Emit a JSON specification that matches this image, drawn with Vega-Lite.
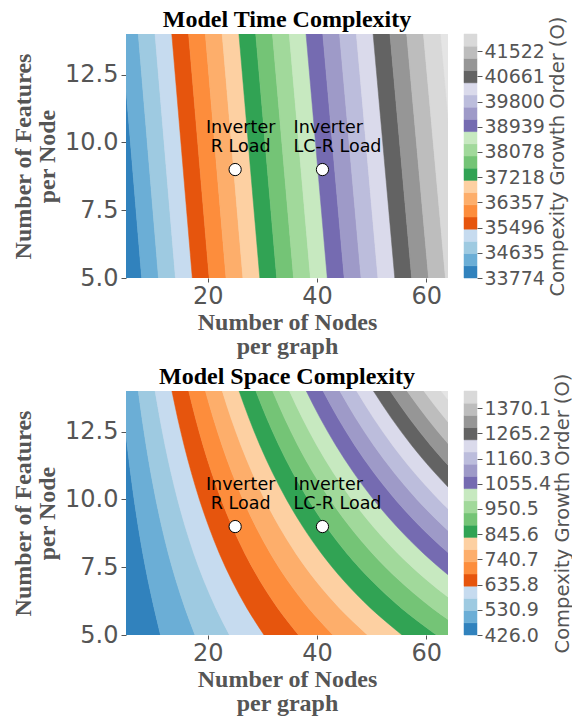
{
"$schema":"https://vega.github.io/schema/vega-lite/v6.json",
"padding":{"left":11,"top":8,"right":0,"bottom":0},
"background":"white",
"config":{
"view":{"stroke":null},
"font":"DejaVu Sans",
"axis":{"domain":false,"grid":false,"labelColor":"#555555","tickColor":"#555555","titleColor":"#555555","labelFont":"DejaVu Sans","labelFlush":false,"labelOverlap":false},
"title":{"font":"Liberation Serif","fontSize":24,"fontWeight":"bold","color":"#000000","anchor":"middle","offset":2}
},
"datasets":{
"markers":[{"x":25,"y":9,"k":"R","label":"Inverter\nR Load"},{"x":41,"y":9,"k":"LCR","label":"Inverter\nLC-R Load"}],
"timeBands":[
{"b":0,"y":5,"x0":4.78,"x1":7.87},{"b":0,"y":14,"x0":1.10,"x1":4.17},
{"b":1,"y":5,"x0":7.87,"x1":10.96},{"b":1,"y":14,"x0":4.17,"x1":7.25},
{"b":2,"y":5,"x0":10.96,"x1":14.06},{"b":2,"y":14,"x0":7.25,"x1":10.32},
{"b":3,"y":5,"x0":14.06,"x1":17.15},{"b":3,"y":14,"x0":10.32,"x1":13.39},
{"b":4,"y":5,"x0":17.15,"x1":20.24},{"b":4,"y":14,"x0":13.39,"x1":16.47},
{"b":5,"y":5,"x0":20.24,"x1":23.33},{"b":5,"y":14,"x0":16.47,"x1":19.54},
{"b":6,"y":5,"x0":23.33,"x1":26.42},{"b":6,"y":14,"x0":19.54,"x1":22.62},
{"b":7,"y":5,"x0":26.42,"x1":29.52},{"b":7,"y":14,"x0":22.62,"x1":25.69},
{"b":8,"y":5,"x0":29.52,"x1":32.61},{"b":8,"y":14,"x0":25.69,"x1":28.77},
{"b":9,"y":5,"x0":32.61,"x1":35.70},{"b":9,"y":14,"x0":28.77,"x1":31.84},
{"b":10,"y":5,"x0":35.70,"x1":38.79},{"b":10,"y":14,"x0":31.84,"x1":34.91},
{"b":11,"y":5,"x0":38.79,"x1":41.88},{"b":11,"y":14,"x0":34.91,"x1":37.99},
{"b":12,"y":5,"x0":41.88,"x1":44.98},{"b":12,"y":14,"x0":37.99,"x1":41.06},
{"b":13,"y":5,"x0":44.98,"x1":48.07},{"b":13,"y":14,"x0":41.06,"x1":44.13},
{"b":14,"y":5,"x0":48.07,"x1":51.16},{"b":14,"y":14,"x0":44.13,"x1":47.21},
{"b":15,"y":5,"x0":51.16,"x1":54.25},{"b":15,"y":14,"x0":47.21,"x1":50.28},
{"b":16,"y":5,"x0":54.25,"x1":57.34},{"b":16,"y":14,"x0":50.28,"x1":53.36},
{"b":17,"y":5,"x0":57.34,"x1":60.44},{"b":17,"y":14,"x0":53.36,"x1":56.43},
{"b":18,"y":5,"x0":60.44,"x1":63.53},{"b":18,"y":14,"x0":56.43,"x1":59.50},
{"b":19,"y":5,"x0":63.53,"x1":66.62},{"b":19,"y":14,"x0":59.50,"x1":62.58}
],
"spaceBands":[
{"b":0,"y":5,"x0":5,"x1":11.32},{"b":0,"y":6,"x0":4.49,"x1":10.14},{"b":0,"y":7,"x0":3.93,"x1":9.05},{"b":0,"y":8,"x0":3.41,"x1":8.09},{"b":0,"y":9,"x0":2.94,"x1":7.24},{"b":0,"y":10,"x0":2.50,"x1":6.49},{"b":0,"y":11,"x0":2.11,"x1":5.82},{"b":0,"y":12,"x0":1.74,"x1":5.22},{"b":0,"y":13,"x0":1.41,"x1":4.67},{"b":0,"y":14,"x0":1.10,"x1":4.18},
{"b":1,"y":5,"x0":11.32,"x1":17.64},{"b":1,"y":6,"x0":10.14,"x1":15.80},{"b":1,"y":7,"x0":9.05,"x1":14.18},{"b":1,"y":8,"x0":8.09,"x1":12.77},{"b":1,"y":9,"x0":7.24,"x1":11.55},{"b":1,"y":10,"x0":6.49,"x1":10.48},{"b":1,"y":11,"x0":5.82,"x1":9.53},{"b":1,"y":12,"x0":5.22,"x1":8.69},{"b":1,"y":13,"x0":4.67,"x1":7.93},{"b":1,"y":14,"x0":4.18,"x1":7.25},
{"b":2,"y":5,"x0":17.64,"x1":23.96},{"b":2,"y":6,"x0":15.80,"x1":21.46},{"b":2,"y":7,"x0":14.18,"x1":19.30},{"b":2,"y":8,"x0":12.77,"x1":17.45},{"b":2,"y":9,"x0":11.55,"x1":15.85},{"b":2,"y":10,"x0":10.48,"x1":14.46},{"b":2,"y":11,"x0":9.53,"x1":13.24},{"b":2,"y":12,"x0":8.69,"x1":12.16},{"b":2,"y":13,"x0":7.93,"x1":11.20},{"b":2,"y":14,"x0":7.25,"x1":10.33},
{"b":3,"y":5,"x0":23.96,"x1":30.28},{"b":3,"y":6,"x0":21.46,"x1":27.12},{"b":3,"y":7,"x0":19.30,"x1":24.42},{"b":3,"y":8,"x0":17.45,"x1":22.12},{"b":3,"y":9,"x0":15.85,"x1":20.16},{"b":3,"y":10,"x0":14.46,"x1":18.45},{"b":3,"y":11,"x0":13.24,"x1":16.96},{"b":3,"y":12,"x0":12.16,"x1":15.64},{"b":3,"y":13,"x0":11.20,"x1":14.46},{"b":3,"y":14,"x0":10.33,"x1":13.41},
{"b":4,"y":5,"x0":30.28,"x1":36.61},{"b":4,"y":6,"x0":27.12,"x1":32.78},{"b":4,"y":7,"x0":24.42,"x1":29.54},{"b":4,"y":8,"x0":22.12,"x1":26.80},{"b":4,"y":9,"x0":20.16,"x1":24.46},{"b":4,"y":10,"x0":18.45,"x1":22.44},{"b":4,"y":11,"x0":16.96,"x1":20.67},{"b":4,"y":12,"x0":15.64,"x1":19.11},{"b":4,"y":13,"x0":14.46,"x1":17.73},{"b":4,"y":14,"x0":13.41,"x1":16.49},
{"b":5,"y":5,"x0":36.61,"x1":42.93},{"b":5,"y":6,"x0":32.78,"x1":38.44},{"b":5,"y":7,"x0":29.54,"x1":34.66},{"b":5,"y":8,"x0":26.80,"x1":31.48},{"b":5,"y":9,"x0":24.46,"x1":28.77},{"b":5,"y":10,"x0":22.44,"x1":26.43},{"b":5,"y":11,"x0":20.67,"x1":24.38},{"b":5,"y":12,"x0":19.11,"x1":22.59},{"b":5,"y":13,"x0":17.73,"x1":20.99},{"b":5,"y":14,"x0":16.49,"x1":19.56},
{"b":6,"y":5,"x0":42.93,"x1":49.25},{"b":6,"y":6,"x0":38.44,"x1":44.10},{"b":6,"y":7,"x0":34.66,"x1":39.78},{"b":6,"y":8,"x0":31.48,"x1":36.16},{"b":6,"y":9,"x0":28.77,"x1":33.07},{"b":6,"y":10,"x0":26.43,"x1":30.41},{"b":6,"y":11,"x0":24.38,"x1":28.10},{"b":6,"y":12,"x0":22.59,"x1":26.06},{"b":6,"y":13,"x0":20.99,"x1":24.25},{"b":6,"y":14,"x0":19.56,"x1":22.64},
{"b":7,"y":5,"x0":49.25,"x1":55.57},{"b":7,"y":6,"x0":44.10,"x1":49.76},{"b":7,"y":7,"x0":39.78,"x1":44.91},{"b":7,"y":8,"x0":36.16,"x1":40.84},{"b":7,"y":9,"x0":33.07,"x1":37.38},{"b":7,"y":10,"x0":30.41,"x1":34.40},{"b":7,"y":11,"x0":28.10,"x1":31.81},{"b":7,"y":12,"x0":26.06,"x1":29.53},{"b":7,"y":13,"x0":24.25,"x1":27.52},{"b":7,"y":14,"x0":22.64,"x1":25.72},
{"b":8,"y":5,"x0":55.57,"x1":61.89},{"b":8,"y":6,"x0":49.76,"x1":55.41},{"b":8,"y":7,"x0":44.91,"x1":50.03},{"b":8,"y":8,"x0":40.84,"x1":45.51},{"b":8,"y":9,"x0":37.38,"x1":41.68},{"b":8,"y":10,"x0":34.40,"x1":38.39},{"b":8,"y":11,"x0":31.81,"x1":35.52},{"b":8,"y":12,"x0":29.53,"x1":33.01},{"b":8,"y":13,"x0":27.52,"x1":30.78},{"b":8,"y":14,"x0":25.72,"x1":28.80},
{"b":9,"y":5,"x0":61.89,"x1":68.21},{"b":9,"y":6,"x0":55.41,"x1":61.07},{"b":9,"y":7,"x0":50.03,"x1":55.15},{"b":9,"y":8,"x0":45.51,"x1":50.19},{"b":9,"y":9,"x0":41.68,"x1":45.99},{"b":9,"y":10,"x0":38.39,"x1":42.37},{"b":9,"y":11,"x0":35.52,"x1":39.24},{"b":9,"y":12,"x0":33.01,"x1":36.48},{"b":9,"y":13,"x0":30.78,"x1":34.05},{"b":9,"y":14,"x0":28.80,"x1":31.88},
{"b":10,"y":5,"x0":68.21,"x1":74.53},{"b":10,"y":6,"x0":61.07,"x1":66.73},{"b":10,"y":7,"x0":55.15,"x1":60.27},{"b":10,"y":8,"x0":50.19,"x1":54.87},{"b":10,"y":9,"x0":45.99,"x1":50.29},{"b":10,"y":10,"x0":42.37,"x1":46.36},{"b":10,"y":11,"x0":39.24,"x1":42.95},{"b":10,"y":12,"x0":36.48,"x1":39.96},{"b":10,"y":13,"x0":34.05,"x1":37.31},{"b":10,"y":14,"x0":31.88,"x1":34.95},
{"b":11,"y":5,"x0":74.53,"x1":80.85},{"b":11,"y":6,"x0":66.73,"x1":72.39},{"b":11,"y":7,"x0":60.27,"x1":65.39},{"b":11,"y":8,"x0":54.87,"x1":59.55},{"b":11,"y":9,"x0":50.29,"x1":54.60},{"b":11,"y":10,"x0":46.36,"x1":50.35},{"b":11,"y":11,"x0":42.95,"x1":46.66},{"b":11,"y":12,"x0":39.96,"x1":43.43},{"b":11,"y":13,"x0":37.31,"x1":40.57},{"b":11,"y":14,"x0":34.95,"x1":38.03},
{"b":12,"y":5,"x0":80.85,"x1":87.17},{"b":12,"y":6,"x0":72.39,"x1":78.05},{"b":12,"y":7,"x0":65.39,"x1":70.52},{"b":12,"y":8,"x0":59.55,"x1":64.23},{"b":12,"y":9,"x0":54.60,"x1":58.90},{"b":12,"y":10,"x0":50.35,"x1":54.34},{"b":12,"y":11,"x0":46.66,"x1":50.37},{"b":12,"y":12,"x0":43.43,"x1":46.90},{"b":12,"y":13,"x0":40.57,"x1":43.84},{"b":12,"y":14,"x0":38.03,"x1":41.11},
{"b":13,"y":5,"x0":87.17,"x1":93.50},{"b":13,"y":6,"x0":78.05,"x1":83.71},{"b":13,"y":7,"x0":70.52,"x1":75.64},{"b":13,"y":8,"x0":64.23,"x1":68.90},{"b":13,"y":9,"x0":58.90,"x1":63.21},{"b":13,"y":10,"x0":54.34,"x1":58.32},{"b":13,"y":11,"x0":50.37,"x1":54.09},{"b":13,"y":12,"x0":46.90,"x1":50.38},{"b":13,"y":13,"x0":43.84,"x1":47.10},{"b":13,"y":14,"x0":41.11,"x1":44.19},
{"b":14,"y":5,"x0":93.50,"x1":99.82},{"b":14,"y":6,"x0":83.71,"x1":89.37},{"b":14,"y":7,"x0":75.64,"x1":80.76},{"b":14,"y":8,"x0":68.90,"x1":73.58},{"b":14,"y":9,"x0":63.21,"x1":67.51},{"b":14,"y":10,"x0":58.32,"x1":62.31},{"b":14,"y":11,"x0":54.09,"x1":57.80},{"b":14,"y":12,"x0":50.38,"x1":53.85},{"b":14,"y":13,"x0":47.10,"x1":50.37},{"b":14,"y":14,"x0":44.19,"x1":47.27},
{"b":15,"y":5,"x0":99.82,"x1":106.14},{"b":15,"y":6,"x0":89.37,"x1":95.03},{"b":15,"y":7,"x0":80.76,"x1":85.88},{"b":15,"y":8,"x0":73.58,"x1":78.26},{"b":15,"y":9,"x0":67.51,"x1":71.82},{"b":15,"y":10,"x0":62.31,"x1":66.30},{"b":15,"y":11,"x0":57.80,"x1":61.51},{"b":15,"y":12,"x0":53.85,"x1":57.32},{"b":15,"y":13,"x0":50.37,"x1":53.63},{"b":15,"y":14,"x0":47.27,"x1":50.34},
{"b":16,"y":5,"x0":106.14,"x1":112.46},{"b":16,"y":6,"x0":95.03,"x1":100.68},{"b":16,"y":7,"x0":85.88,"x1":91.00},{"b":16,"y":8,"x0":78.26,"x1":82.94},{"b":16,"y":9,"x0":71.82,"x1":76.12},{"b":16,"y":10,"x0":66.30,"x1":70.28},{"b":16,"y":11,"x0":61.51,"x1":65.23},{"b":16,"y":12,"x0":57.32,"x1":60.80},{"b":16,"y":13,"x0":53.63,"x1":56.89},{"b":16,"y":14,"x0":50.34,"x1":53.42},
{"b":17,"y":5,"x0":112.46,"x1":118.78},{"b":17,"y":6,"x0":100.68,"x1":106.34},{"b":17,"y":7,"x0":91.00,"x1":96.13},{"b":17,"y":8,"x0":82.94,"x1":87.62},{"b":17,"y":9,"x0":76.12,"x1":80.43},{"b":17,"y":10,"x0":70.28,"x1":74.27},{"b":17,"y":11,"x0":65.23,"x1":68.94},{"b":17,"y":12,"x0":60.80,"x1":64.27},{"b":17,"y":13,"x0":56.89,"x1":60.16},{"b":17,"y":14,"x0":53.42,"x1":56.50},
{"b":18,"y":5,"x0":118.78,"x1":125.10},{"b":18,"y":6,"x0":106.34,"x1":112.00},{"b":18,"y":7,"x0":96.13,"x1":101.25},{"b":18,"y":8,"x0":87.62,"x1":92.29},{"b":18,"y":9,"x0":80.43,"x1":84.73},{"b":18,"y":10,"x0":74.27,"x1":78.26},{"b":18,"y":11,"x0":68.94,"x1":72.65},{"b":18,"y":12,"x0":64.27,"x1":67.75},{"b":18,"y":13,"x0":60.16,"x1":63.42},{"b":18,"y":14,"x0":56.50,"x1":59.58},
{"b":19,"y":5,"x0":125.10,"x1":131.42},{"b":19,"y":6,"x0":112.00,"x1":117.66},{"b":19,"y":7,"x0":101.25,"x1":106.37},{"b":19,"y":8,"x0":92.29,"x1":96.97},{"b":19,"y":9,"x0":84.73,"x1":89.04},{"b":19,"y":10,"x0":78.26,"x1":82.24},{"b":19,"y":11,"x0":72.65,"x1":76.36},{"b":19,"y":12,"x0":67.75,"x1":71.22},{"b":19,"y":13,"x0":63.42,"x1":66.68},{"b":19,"y":14,"x0":59.58,"x1":62.66}
],
"timeCb":[
{"b":0,"lo":33774,"hi":34190.7},{"b":1,"lo":34190.7,"hi":34607.4},{"b":2,"lo":34607.4,"hi":35024.1},{"b":3,"lo":35024.1,"hi":35440.8},{"b":4,"lo":35440.8,"hi":35857.5},{"b":5,"lo":35857.5,"hi":36274.2},{"b":6,"lo":36274.2,"hi":36690.9},{"b":7,"lo":36690.9,"hi":37107.6},{"b":8,"lo":37107.6,"hi":37524.3},{"b":9,"lo":37524.3,"hi":37941},{"b":10,"lo":37941,"hi":38357.7},{"b":11,"lo":38357.7,"hi":38774.4},{"b":12,"lo":38774.4,"hi":39191.1},{"b":13,"lo":39191.1,"hi":39607.8},{"b":14,"lo":39607.8,"hi":40024.5},{"b":15,"lo":40024.5,"hi":40441.2},{"b":16,"lo":40441.2,"hi":40857.9},{"b":17,"lo":40857.9,"hi":41274.6},{"b":18,"lo":41274.6,"hi":41691.3},{"b":19,"lo":41691.3,"hi":42108}
],
"spaceCb":[
{"b":0,"lo":426,"hi":476.77},{"b":1,"lo":476.77,"hi":527.54},{"b":2,"lo":527.54,"hi":578.31},{"b":3,"lo":578.31,"hi":629.08},{"b":4,"lo":629.08,"hi":679.85},{"b":5,"lo":679.85,"hi":730.62},{"b":6,"lo":730.62,"hi":781.39},{"b":7,"lo":781.39,"hi":832.16},{"b":8,"lo":832.16,"hi":882.93},{"b":9,"lo":882.93,"hi":933.7},{"b":10,"lo":933.7,"hi":984.47},{"b":11,"lo":984.47,"hi":1035.24},{"b":12,"lo":1035.24,"hi":1086.01},{"b":13,"lo":1086.01,"hi":1136.78},{"b":14,"lo":1136.78,"hi":1187.55},{"b":15,"lo":1187.55,"hi":1238.32},{"b":16,"lo":1238.32,"hi":1289.09},{"b":17,"lo":1289.09,"hi":1339.86},{"b":18,"lo":1339.86,"hi":1390.63},{"b":19,"lo":1390.63,"hi":1441.4}
]
},
"columns":2,
"bounds":"flush",
"spacing":{"row":113,"column":16},
"resolve":{"scale":{"x":"independent","y":"independent","color":"independent","stroke":"independent"}},
"concat":[
{"width":322,"height":244,
"title":"Model Time Complexity",
"view":{"fill":"#e5e5e5","stroke":null},
"layer":[
{"data":{"name":"timeBands"},
"mark":{"type":"area","orient":"horizontal","clip":true,"strokeWidth":0.5},
"encoding":{
"y":{"field":"y","type":"quantitative","scale":{"domain":[5,14],"nice":false,"zero":false},
"axis":{"values":[5,7.5,10,12.5],"format":".1f","labelFontSize":24,"tickSize":5,"labelPadding":3,"title":["Number of Features","per Node"],"titleFont":"Liberation Serif","titleFontSize":24,"titleFontWeight":"bold","titlePadding":5,"titleLineHeight":24.5}},
"x":{"field":"x0","type":"quantitative","stack":null,"scale":{"domain":[5,64],"nice":false,"zero":false},
"axis":{"values":[20,40,60],"labelFontSize":24,"tickSize":4,"labelPadding":2,"title":["Number of Nodes","per graph"],"titleFont":"Liberation Serif","titleFontSize":24,"titleFontWeight":"bold","titlePadding":2,"titleLineHeight":24.5}},
"x2":{"field":"x1"},
"color":{"field":"b","type":"ordinal","legend":null,"scale":{"domain":[0,1,2,3,4,5,6,7,8,9,10,11,12,13,14,15,16,17,18,19],"range":["#3182bd","#6baed6","#9ecae1","#c6dbef","#e6550d","#fd8d3c","#fdae6b","#fdd0a2","#31a354","#74c476","#a1d99b","#c7e9c0","#756bb1","#9e9ac8","#bcbddc","#dadaeb","#636363","#969696","#bdbdbd","#d9d9d9"]}},
"stroke":{"field":"b","type":"ordinal","legend":null,"scale":{"domain":[0,1,2,3,4,5,6,7,8,9,10,11,12,13,14,15,16,17,18,19],"range":["#3182bd","#6baed6","#9ecae1","#c6dbef","#e6550d","#fd8d3c","#fdae6b","#fdd0a2","#31a354","#74c476","#a1d99b","#c7e9c0","#756bb1","#9e9ac8","#bcbddc","#dadaeb","#636363","#969696","#bdbdbd","#d9d9d9"]}}
}},
{"data":{"name":"markers"},
"mark":{"type":"point","filled":true,"fill":"#ffffff","stroke":"#000000","strokeWidth":1,"size":150,"opacity":1},
"encoding":{"x":{"field":"x","type":"quantitative"},"y":{"field":"y","type":"quantitative"}}},
{"data":{"name":"markers"},"transform":[{"filter":{"field":"k","equal":"R"}}],
"mark":{"type":"text","font":"DejaVu Sans","fontSize":17.5,"color":"#000000","lineBreak":"\n","lineHeight":19.5,"baseline":"bottom","align":"center","dx":5.5,"dy":-33},
"encoding":{"x":{"field":"x","type":"quantitative"},"y":{"field":"y","type":"quantitative"},"text":{"field":"label"}}},
{"data":{"name":"markers"},"transform":[{"filter":{"field":"k","equal":"LCR"}}],
"mark":{"type":"text","font":"DejaVu Sans","fontSize":17.5,"color":"#000000","lineBreak":"\n","lineHeight":19.5,"baseline":"bottom","align":"left","dx":-29,"dy":-33},
"encoding":{"x":{"field":"x","type":"quantitative"},"y":{"field":"y","type":"quantitative"},"text":{"field":"label"}}}
]},
{"width":13,"height":244,
"data":{"name":"timeCb"},
"mark":{"type":"rect","strokeWidth":0.5},
"encoding":{
"y":{"field":"lo","type":"quantitative","scale":{"domain":[33774,42108],"nice":false,"zero":false},
"axis":{"orient":"right","values":[33774,34635,35496,36357,37218,38078,38939,39800,40661,41522],"format":"d","labelFontSize":19,"labelPadding":2,"tickSize":5,"title":"Compexity Growth Order (O)","titleFont":"DejaVu Sans","titleFontSize":19.5,"titleFontWeight":"normal","titleAngle":270,"titleBaseline":"top","titlePadding":4}},
"y2":{"field":"hi"},
"color":{"field":"b","type":"ordinal","legend":null,"scale":{"domain":[0,1,2,3,4,5,6,7,8,9,10,11,12,13,14,15,16,17,18,19],"range":["#3182bd","#6baed6","#9ecae1","#c6dbef","#e6550d","#fd8d3c","#fdae6b","#fdd0a2","#31a354","#74c476","#a1d99b","#c7e9c0","#756bb1","#9e9ac8","#bcbddc","#dadaeb","#636363","#969696","#bdbdbd","#d9d9d9"]}},
"stroke":{"field":"b","type":"ordinal","legend":null,"scale":{"domain":[0,1,2,3,4,5,6,7,8,9,10,11,12,13,14,15,16,17,18,19],"range":["#3182bd","#6baed6","#9ecae1","#c6dbef","#e6550d","#fd8d3c","#fdae6b","#fdd0a2","#31a354","#74c476","#a1d99b","#c7e9c0","#756bb1","#9e9ac8","#bcbddc","#dadaeb","#636363","#969696","#bdbdbd","#d9d9d9"]}}
}},
{"width":322,"height":244,
"title":"Model Space Complexity",
"view":{"fill":"#e5e5e5","stroke":null},
"layer":[
{"data":{"name":"spaceBands"},
"mark":{"type":"area","orient":"horizontal","clip":true,"interpolate":"monotone","strokeWidth":0.5},
"encoding":{
"y":{"field":"y","type":"quantitative","scale":{"domain":[5,14],"nice":false,"zero":false},
"axis":{"values":[5,7.5,10,12.5],"format":".1f","labelFontSize":24,"tickSize":5,"labelPadding":3,"title":["Number of Features","per Node"],"titleFont":"Liberation Serif","titleFontSize":24,"titleFontWeight":"bold","titlePadding":5,"titleLineHeight":24.5}},
"x":{"field":"x0","type":"quantitative","stack":null,"scale":{"domain":[5,64],"nice":false,"zero":false},
"axis":{"values":[20,40,60],"labelFontSize":24,"tickSize":4,"labelPadding":2,"title":["Number of Nodes","per graph"],"titleFont":"Liberation Serif","titleFontSize":24,"titleFontWeight":"bold","titlePadding":2,"titleLineHeight":24.5}},
"x2":{"field":"x1"},
"color":{"field":"b","type":"ordinal","legend":null,"scale":{"domain":[0,1,2,3,4,5,6,7,8,9,10,11,12,13,14,15,16,17,18,19],"range":["#3182bd","#6baed6","#9ecae1","#c6dbef","#e6550d","#fd8d3c","#fdae6b","#fdd0a2","#31a354","#74c476","#a1d99b","#c7e9c0","#756bb1","#9e9ac8","#bcbddc","#dadaeb","#636363","#969696","#bdbdbd","#d9d9d9"]}},
"stroke":{"field":"b","type":"ordinal","legend":null,"scale":{"domain":[0,1,2,3,4,5,6,7,8,9,10,11,12,13,14,15,16,17,18,19],"range":["#3182bd","#6baed6","#9ecae1","#c6dbef","#e6550d","#fd8d3c","#fdae6b","#fdd0a2","#31a354","#74c476","#a1d99b","#c7e9c0","#756bb1","#9e9ac8","#bcbddc","#dadaeb","#636363","#969696","#bdbdbd","#d9d9d9"]}}
}},
{"data":{"name":"markers"},
"mark":{"type":"point","filled":true,"fill":"#ffffff","stroke":"#000000","strokeWidth":1,"size":150,"opacity":1},
"encoding":{"x":{"field":"x","type":"quantitative"},"y":{"field":"y","type":"quantitative"}}},
{"data":{"name":"markers"},"transform":[{"filter":{"field":"k","equal":"R"}}],
"mark":{"type":"text","font":"DejaVu Sans","fontSize":17.5,"color":"#000000","lineBreak":"\n","lineHeight":19.5,"baseline":"bottom","align":"center","dx":5.5,"dy":-33},
"encoding":{"x":{"field":"x","type":"quantitative"},"y":{"field":"y","type":"quantitative"},"text":{"field":"label"}}},
{"data":{"name":"markers"},"transform":[{"filter":{"field":"k","equal":"LCR"}}],
"mark":{"type":"text","font":"DejaVu Sans","fontSize":17.5,"color":"#000000","lineBreak":"\n","lineHeight":19.5,"baseline":"bottom","align":"left","dx":-29,"dy":-33},
"encoding":{"x":{"field":"x","type":"quantitative"},"y":{"field":"y","type":"quantitative"},"text":{"field":"label"}}}
]},
{"width":13,"height":244,
"data":{"name":"spaceCb"},
"mark":{"type":"rect","strokeWidth":0.5},
"encoding":{
"y":{"field":"lo","type":"quantitative","scale":{"domain":[426,1441.4],"nice":false,"zero":false},
"axis":{"orient":"right","values":[426,530.9,635.8,740.7,845.6,950.5,1055.4,1160.3,1265.2,1370.1],"format":".1f","labelFontSize":19,"labelPadding":2,"tickSize":5,"title":"Compexity Growth Order (O)","titleFont":"DejaVu Sans","titleFontSize":19.5,"titleFontWeight":"normal","titleAngle":270,"titleBaseline":"top","titlePadding":3}},
"y2":{"field":"hi"},
"color":{"field":"b","type":"ordinal","legend":null,"scale":{"domain":[0,1,2,3,4,5,6,7,8,9,10,11,12,13,14,15,16,17,18,19],"range":["#3182bd","#6baed6","#9ecae1","#c6dbef","#e6550d","#fd8d3c","#fdae6b","#fdd0a2","#31a354","#74c476","#a1d99b","#c7e9c0","#756bb1","#9e9ac8","#bcbddc","#dadaeb","#636363","#969696","#bdbdbd","#d9d9d9"]}},
"stroke":{"field":"b","type":"ordinal","legend":null,"scale":{"domain":[0,1,2,3,4,5,6,7,8,9,10,11,12,13,14,15,16,17,18,19],"range":["#3182bd","#6baed6","#9ecae1","#c6dbef","#e6550d","#fd8d3c","#fdae6b","#fdd0a2","#31a354","#74c476","#a1d99b","#c7e9c0","#756bb1","#9e9ac8","#bcbddc","#dadaeb","#636363","#969696","#bdbdbd","#d9d9d9"]}}
}}
]
}
